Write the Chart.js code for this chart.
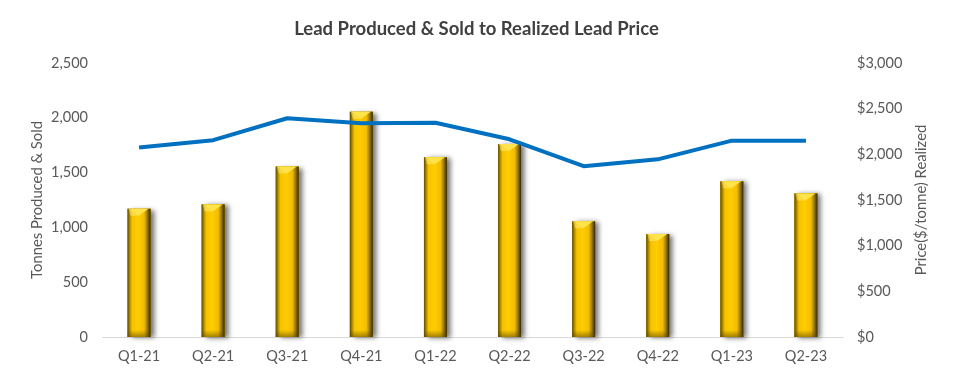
<!DOCTYPE html>
<html>
<head>
<meta charset="utf-8">
<script src="https://cdn.jsdelivr.net/npm/chart.js@4"></script>
<style>
  html, body { margin: 0; padding: 0; background: #ffffff; }
  #wrap { width: 953px; height: 380px; position: relative; }
</style>
</head>
<body>
<div id="wrap"><canvas id="c" width="953" height="380"></canvas></div>
<script>
const categories = ['Q1-21', 'Q2-21', 'Q3-21', 'Q4-21', 'Q1-22', 'Q2-22', 'Q3-22', 'Q4-22', 'Q1-23', 'Q2-23'];
const tonnesProducedSold = [1170, 1210, 1555, 2055, 1640, 1760, 1055, 940, 1420, 1310];
const realizedPrice = [2075, 2155, 2395, 2340, 2345, 2165, 1870, 1945, 2150, 2150];
const leftTicks = [0, 500, 1000, 1500, 2000, 2500];
const rightTicks = [0, 500, 1000, 1500, 2000, 2500, 3000];

const FONT = 'Lato, "Open Sans", sans-serif';
const GRAY = '#595959';
const TICK_SIZE = 14.5;

const barStyler = {
  id: 'barStyler',
  beforeDatasetDraw(chart, args) {
    if (args.meta.type !== 'bar') return;
    const ctx = chart.ctx;
    ctx.save();
    ctx.shadowColor = 'rgba(0,0,0,0.55)';
    ctx.shadowBlur = 5;
    ctx.shadowOffsetX = 4;
    ctx.shadowOffsetY = 1;
    ctx.fillStyle = '#4a3c00';
    args.meta.data.forEach(el => {
      const p = el.getProps(['x', 'y', 'base', 'width'], true);
      ctx.fillRect(p.x - p.width / 2, p.y, p.width, p.base - p.y);
    });
    ctx.restore();
  },
  afterDatasetDraw(chart, args) {
    if (args.meta.type !== 'bar') return;
    const ctx = chart.ctx;
    ctx.save();
    args.meta.data.forEach(el => {
      const p = el.getProps(['x', 'y', 'base', 'width'], true);
      const l = p.x - p.width / 2, r = p.x + p.width / 2, t = p.y, b = p.base, w = p.width;
      const g = ctx.createLinearGradient(l, 0, r, 0);
      g.addColorStop(0, '#5e4a00');
      g.addColorStop(0.1, '#b08c00');
      g.addColorStop(0.2, '#f5c400');
      g.addColorStop(0.45, '#ffcc00');
      g.addColorStop(0.72, '#f3bd00');
      g.addColorStop(0.85, '#a07e00');
      g.addColorStop(1, '#2e2500');
      ctx.fillStyle = g;
      ctx.fillRect(l, t, w, b - t);
      // top bevel
      ctx.beginPath();
      ctx.moveTo(l + 1, t);
      ctx.lineTo(r - 2, t);
      ctx.lineTo(p.x - 0.5, t + 7);
      ctx.closePath();
      ctx.fillStyle = '#ffe34a';
      ctx.fill();
      ctx.beginPath();
      ctx.moveTo(l + 1, t);
      ctx.lineTo(p.x - 0.5, t + 7);
      ctx.lineTo(l + 3, t + 7);
      ctx.closePath();
      ctx.fillStyle = 'rgba(255,235,120,0.55)';
      ctx.fill();
      // bottom bevel
      const gb = ctx.createLinearGradient(0, b - 7, 0, b);
      gb.addColorStop(0, 'rgba(90,70,0,0)');
      gb.addColorStop(1, 'rgba(90,70,0,0.55)');
      ctx.fillStyle = gb;
      ctx.fillRect(l, b - 7, w, 7);
    });
    ctx.restore();
  }
};

const axisTitles = {
  id: 'axisTitles',
  afterDraw(chart) {
    const ctx = chart.ctx;
    const a = chart.chartArea;
    const cy = (a.top + a.bottom) / 2;
    [['Tonnes Produced & Sold', 37], ['Price($/tonne) Realized', 921]].forEach(([txt, x]) => {
      ctx.save();
      ctx.fillStyle = GRAY;
      ctx.font = '14.8px ' + FONT;
      ctx.textAlign = 'center';
      ctx.textBaseline = 'middle';
      ctx.translate(x, cy);
      ctx.rotate(-Math.PI / 2);
      ctx.fillText(txt, 0, 0);
      ctx.restore();
    });
  }
};

new Chart(document.getElementById('c'), {
  data: {
    labels: categories,
    datasets: [
      {
        type: 'line',
        label: 'Realized Lead Price',
        data: realizedPrice,
        yAxisID: 'y1',
        borderColor: '#0070C0',
        borderWidth: 4,
        pointRadius: 0,
        tension: 0,
        borderJoinStyle: 'round',
        borderCapStyle: 'butt',
        order: 0
      },
      {
        type: 'bar',
        label: 'Tonnes Produced & Sold',
        data: tonnesProducedSold,
        yAxisID: 'y',
        backgroundColor: '#FFC000',
        barPercentage: 0.31,
        categoryPercentage: 1,
        order: 1
      }
    ]
  },
  options: {
    responsive: false,
    animation: false,
    layout: { padding: { left: 10, right: 10, top: 10, bottom: 0 } },
    plugins: {
      legend: { display: false },
      tooltip: { enabled: false },
      title: {
        display: true,
        text: 'Lead Produced & Sold to Realized Lead Price',
        color: '#404040',
        font: { family: FONT, size: 18.5, weight: 'bold' },
        padding: { top: 7.9, bottom: 22.9 }
      }
    },
    scales: {
      x: {
        grid: { display: false, drawTicks: false },
        border: { display: true, color: '#d9d9d9', width: 1 },
        ticks: { color: GRAY, font: { family: FONT, size: TICK_SIZE }, padding: 11, maxRotation: 0 },
        afterFit(s) { s.height = 43; }
      },
      y: {
        position: 'left',
        min: 0, max: 2500,
        afterBuildTicks(s) { s.ticks = leftTicks.map(v => ({ value: v })); },
        grid: { display: false, drawTicks: false },
        border: { display: false },
        ticks: {
          color: GRAY, font: { family: FONT, size: TICK_SIZE }, padding: 14,
          callback: v => v.toLocaleString('en-US')
        },
        afterFit(s) { s.width = 92; }
      },
      y1: {
        position: 'right',
        min: 0, max: 3000,
        afterBuildTicks(s) { s.ticks = rightTicks.map(v => ({ value: v })); },
        grid: { display: false, drawTicks: false },
        border: { display: false },
        ticks: {
          color: GRAY, font: { family: FONT, size: TICK_SIZE }, padding: 14,
          callback: v => '$' + v.toLocaleString('en-US')
        },
        afterFit(s) { s.width = 100; }
      }
    }
  },
  plugins: [barStyler, axisTitles]
});
</script>
</body>
</html>
